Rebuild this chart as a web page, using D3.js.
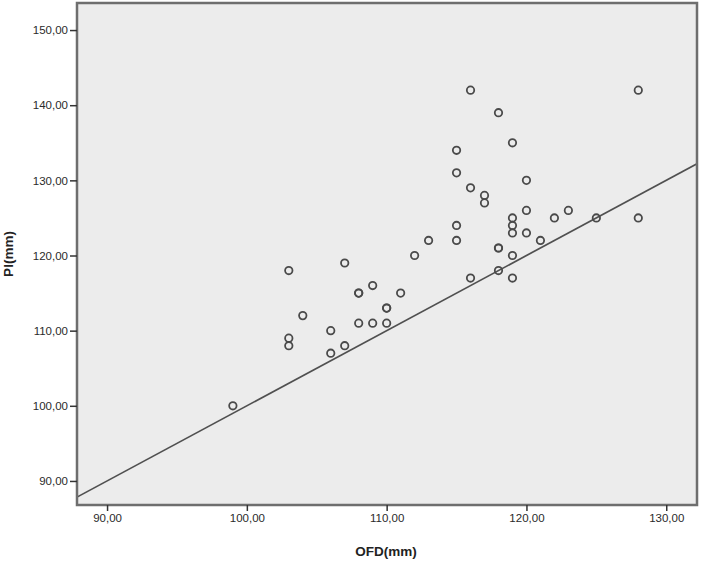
<!DOCTYPE html>
<html>
<head>
<meta charset="utf-8">
<script src="https://cdn.jsdelivr.net/npm/d3@7"></script>
<style>
  body { margin: 0; background: #fff; }
  text { font-family: "Liberation Sans", Arial, sans-serif; }
</style>
</head>
<body>
<script>
// OFD (mm) vs PI (mm)
const ofd = [99, 103, 103, 103, 104, 106, 106, 107, 107, 108, 108, 108, 109, 109,
             110, 110, 110, 111, 112, 113, 115, 115, 115, 115, 116, 116, 116,
             117, 117, 118, 118, 118, 118, 119, 119, 119, 119, 119, 119,
             120, 120, 120, 121, 122, 123, 125, 128, 128];
const pi  = [100, 118, 109, 108, 112, 110, 107, 119, 108, 115, 115, 111, 116, 111,
             113, 113, 111, 115, 120, 122, 134, 131, 124, 122, 142, 129, 117,
             128, 127, 139, 121, 121, 118, 135, 125, 124, 123, 120, 117,
             130, 126, 123, 122, 125, 126, 125, 142, 125];
const xTicks = [90, 100, 110, 120, 130];
const yTicks = [90, 100, 110, 120, 130, 140, 150];
const xDomain = [87.85, 132.2];
const yDomain = [86.8, 153.6];
// reference line y = x
const refLine = [87.85, 132.2];

const W = 702, H = 562;
const pLeft = 77, pRight = 697, pTop = 3, pBottom = 505;

const svg = d3.select("body").append("svg")
  .attr("width", W)
  .attr("height", H);

const x = d3.scaleLinear().domain(xDomain).range([pLeft, pRight]);
const y = d3.scaleLinear().domain(yDomain).range([pBottom, pTop]);

const fmt = d => d.toFixed(2).replace(".", ",");

svg.append("defs").append("clipPath").attr("id", "clip")
  .append("rect")
  .attr("x", pLeft).attr("y", pTop)
  .attr("width", pRight - pLeft).attr("height", pBottom - pTop);

// plot background
svg.append("rect")
  .attr("x", pLeft).attr("y", pTop)
  .attr("width", pRight - pLeft).attr("height", pBottom - pTop)
  .style("fill", "#ececec");

// reference line
svg.append("line")
  .attr("clip-path", "url(#clip)")
  .attr("x1", x(refLine[0])).attr("y1", y(refLine[0]))
  .attr("x2", x(refLine[1])).attr("y2", y(refLine[1]))
  .attr("stroke", "#505050")
  .style("stroke-width", "1.7px");

// points
svg.append("g").selectAll("circle")
  .data(d3.range(ofd.length))
  .enter()
  .append("circle")
  .attr("cx", i => x(ofd[i]))
  .attr("cy", i => y(pi[i]))
  .attr("r", 3.7)
  .style("fill", "none")
  .style("stroke", "#4a4a4a")
  .style("stroke-width", "1.8px");

// frame
svg.append("rect")
  .attr("x", pLeft).attr("y", pTop)
  .attr("width", pRight - pLeft).attr("height", pBottom - pTop)
  .style("fill", "none")
  .style("stroke", "#6e6e6e")
  .style("stroke-width", "2.5px");

// axes
const xAxis = svg.append("g")
  .attr("transform", `translate(0,${pBottom})`)
  .call(d3.axisBottom(x).tickValues(xTicks).tickFormat(fmt).tickSize(6).tickPadding(3));
const yAxis = svg.append("g")
  .attr("transform", `translate(${pLeft},0)`)
  .call(d3.axisLeft(y).tickValues(yTicks).tickFormat(fmt).tickSize(7).tickPadding(2));

[xAxis, yAxis].forEach(a => {
  a.select(".domain").remove();
  a.selectAll("line").attr("stroke", "#333").style("stroke-width", "1.5px");
  a.selectAll("text")
    .style("font-size", "11.5px")
    .style("fill", "#2a2a2a");
});

// axis titles
svg.append("text")
  .attr("x", (pLeft + pRight) / 2 - 1)
  .attr("y", 556)
  .attr("text-anchor", "middle")
  .style("font-size", "13.5px")
  .style("font-weight", "bold")
  .style("fill", "#222")
  .text("OFD(mm)");

svg.append("text")
  .attr("transform", `translate(13,${(pTop + pBottom) / 2}) rotate(-90)`)
  .attr("text-anchor", "middle")
  .style("font-size", "13.5px")
  .style("font-weight", "bold")
  .style("fill", "#222")
  .text("PI(mm)");
</script>
</body>
</html>
